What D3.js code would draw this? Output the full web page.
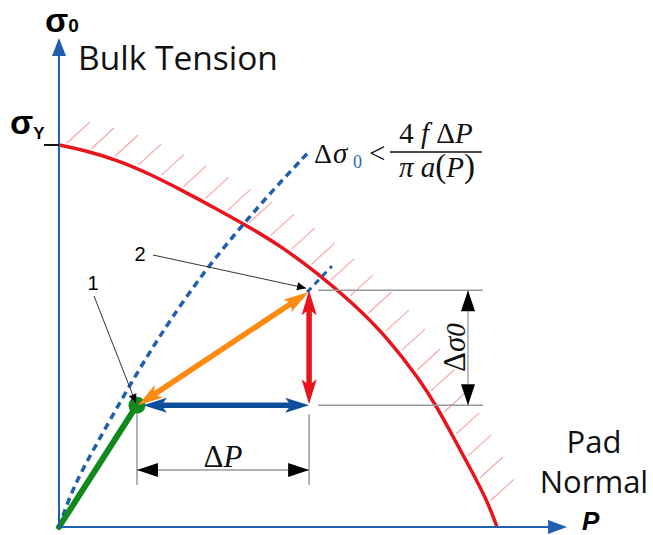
<!DOCTYPE html>
<html>
<head>
<meta charset="utf-8">
<script src="https://cdn.jsdelivr.net/npm/d3@7"></script>
<style>
html,body{margin:0;padding:0;background:#fff;}
svg{display:block;}
</style>
</head>
<body>
<svg id="chart" width="653" height="535"></svg>
<script>
// ---- data (P = pad normal, S = bulk tension, yield stress = 100) ----
const yieldP = [0, 5.5, 13.2, 20.8, 28.3, 36.1, 43.6, 51.1, 58.9, 67.1, 74.9, 82.4, 86.3, 90.0, 93.6, 97.7, 100];
const yieldS = [100, 98.7, 96.1, 92.4, 88.0, 83.2, 78.4, 73.2, 66.5, 58.6, 49.7, 38.5, 31.4, 23.6, 16.0, 7.1, 0];
const limitP = [0, 3.2, 8.7, 14.6, 20.0, 25.3, 32.9, 40.6, 48.2, 56.8];
const limitS = [0, 10.5, 22.0, 34.0, 44.5, 54.0, 66.5, 77.3, 87.4, 97.9];
const shiftP = [53.2, 62.3];
const shiftS = [57.3, 68.3];
const stateNames = ["1", "2"];
const stateP = [17.8, 57.1];
const stateS = [31.9, 62.0];
const axisMax = [116, 128];

const svg = d3.select("#chart");
const x = d3.scaleLinear().domain([0, 100]).range([59, 497]);
const y = d3.scaleLinear().domain([0, 100]).range([527, 145]);

const RED = "#e8141b", BLUE = "#1f5fad", DBLUE = "#0d4f9a", GREEN = "#12891f", ORANGE = "#ff8a12";

const yieldData = yieldP.map((p, i) => [p, yieldS[i]]);
const limitData = limitP.map((p, i) => [p, limitS[i]]);
const shiftData = shiftP.map((p, i) => [p, shiftS[i]]);
const smooth = d3.line().x(d => x(d[0])).y(d => y(d[1])).curve(d3.curveBasis);

// yield curve (path first for hatch sampling)
const yieldPath = svg.append("path")
  .attr("d", smooth(yieldData))
  .attr("fill", "none").attr("stroke", RED).attr("stroke-width", 3.5);
const node = yieldPath.node();
const len = node.getTotalLength();
const hatch = svg.insert("g", "path");
for (let s = 5; s < len - 20; s += 25) {
  const p = node.getPointAtLength(s);
  hatch.append("line")
    .attr("x1", p.x + 3).attr("y1", p.y - 3)
    .attr("x2", p.x + 26).attr("y2", p.y - 24)
    .attr("stroke", "#f6a3a3").attr("stroke-width", 1.1);
}

// dashed limit curves
svg.append("path").attr("d", smooth(limitData))
  .attr("fill", "none").attr("stroke", BLUE).attr("stroke-width", 3.5).attr("stroke-dasharray", "7,5");
svg.append("path").attr("d", d3.line().x(d => x(d[0])).y(d => y(d[1]))(shiftData))
  .attr("fill", "none").attr("stroke", BLUE).attr("stroke-width", 3).attr("stroke-dasharray", "6,5");

const p1 = [x(stateP[0]), y(stateS[0])];
const p2 = [x(stateP[1]), y(stateS[1])];

// green loading line
svg.append("line").attr("x1", x(0)).attr("y1", y(0)).attr("x2", p1[0]).attr("y2", p1[1])
  .attr("stroke", GREEN).attr("stroke-width", 6).attr("stroke-linecap", "round");

// axes
const ax = svg.append("g");
ax.append("line").attr("x1", x(0)).attr("y1", y(0)).attr("x2", x(0)).attr("y2", y(axisMax[1]) + 14)
  .attr("stroke", BLUE).attr("stroke-width", 2);
ax.append("path").attr("d", `M${x(0)},${y(axisMax[1])} L${x(0) - 7},${y(axisMax[1]) + 18} L${x(0) + 7},${y(axisMax[1]) + 18} Z`).attr("fill", BLUE);
ax.append("line").attr("x1", x(0)).attr("y1", y(0)).attr("x2", x(axisMax[0]) - 14).attr("y2", y(0))
  .attr("stroke", BLUE).attr("stroke-width", 2);
ax.append("path").attr("d", `M${x(axisMax[0])},${y(0)} L${x(axisMax[0]) - 19},${y(0) - 7} L${x(axisMax[0]) - 19},${y(0) + 7} Z`).attr("fill", BLUE);
// sigma_Y tick
ax.append("line").attr("x1", x(0) - 15).attr("x2", x(0)).attr("y1", y(100)).attr("y2", y(100))
  .attr("stroke", "#111").attr("stroke-width", 2);

// gray extension lines
const gray = "#9a9a9a";
const g2 = svg.append("g").attr("stroke", gray).attr("stroke-width", 1.5);
g2.append("line").attr("x1", p2[0] + 9).attr("x2", 483).attr("y1", p2[1]).attr("y2", p2[1]);
g2.append("line").attr("x1", p2[0] + 9).attr("x2", 483).attr("y1", p1[1]).attr("y2", p1[1]);
g2.append("line").attr("x1", p1[0]).attr("x2", p1[0]).attr("y1", p1[1] + 9).attr("y2", 485);
g2.append("line").attr("x1", p2[0]).attr("x2", p2[0]).attr("y1", p1[1] + 9).attr("y2", 485);

// dimension lines
const dimY = 470, dimX = 468;
g2.append("line").attr("x1", p1[0]).attr("x2", p2[0]).attr("y1", dimY).attr("y2", dimY).attr("stroke-width", 1.3);
g2.append("line").attr("x1", dimX).attr("x2", dimX).attr("y1", p2[1]).attr("y2", p1[1]).attr("stroke-width", 1.3);
function head(tip, dir, L, h, color) {
  const [ux, uy] = dir, nx = -uy, ny = ux;
  const bx = tip[0] + ux * L, by = tip[1] + uy * L;
  svg.append("path").attr("d", `M${tip[0]},${tip[1]} L${bx + nx * h},${by + ny * h} L${bx - nx * h},${by - ny * h} Z`).attr("fill", color);
}
head([p1[0], dimY], [1, 0], 21, 7, "#000");
head([p2[0], dimY], [-1, 0], 21, 7, "#000");
head([dimX, p2[1]], [0, 1], 21, 7, "#000");
head([dimX, p1[1]], [0, -1], 21, 7, "#000");

// double arrows
function dbl(a, b, color, w, L, h) {
  const dx = b[0] - a[0], dy = b[1] - a[1], d = Math.hypot(dx, dy);
  const ux = dx / d, uy = dy / d, nx = -uy, ny = ux;
  const P = (pt, u, n) => [pt[0] + ux * u + nx * n, pt[1] + uy * u + ny * n];
  const pts = [a, P(a, L, h), P(a, L * 0.85, w / 2), P(b, -L * 0.85, w / 2), P(b, -L, h), b,
    P(b, -L, -h), P(b, -L * 0.85, -w / 2), P(a, L * 0.85, -w / 2), P(a, L, -h)];
  svg.append("path").attr("d", d3.line()(pts) + "Z").attr("fill", color);
}
// green state dot
svg.append("circle").attr("cx", p1[0]).attr("cy", p1[1]).attr("r", 8.5).attr("fill", GREEN);
dbl([p1[0] + 6, p1[1]], [p2[0], p1[1]], DBLUE, 5.5, 24, 7.5);
dbl([p1[0] + 1, p1[1]], [p2[0] - 1, p2[1] + 2], ORANGE, 5.5, 25, 7.5);
dbl([p2[0], p2[1]], [p2[0], p1[1] - 1], RED, 5.5, 25, 7.5);

// leaders for state labels
function leader(from, to) {
  svg.append("line").attr("x1", from[0]).attr("y1", from[1]).attr("x2", to[0]).attr("y2", to[1])
    .attr("stroke", "#333").attr("stroke-width", 1);
  const dx = to[0] - from[0], dy = to[1] - from[1], d = Math.hypot(dx, dy);
  head(to, [-dx / d, -dy / d], 9, 4, "#000");
}
leader([94, 296], [p1[0] - 1, p1[1] - 2]);
leader([153, 255], [p2[0] - 3, p2[1] - 2]);
svg.append("text").attr("x", 93).attr("y", 290).attr("text-anchor", "middle")
  .attr("font-family", "Liberation Sans, Arial, sans-serif").attr("font-size", 20).text(stateNames[0]);
svg.append("text").attr("x", 140).attr("y", 261).attr("text-anchor", "middle")
  .attr("font-family", "Liberation Sans, Arial, sans-serif").attr("font-size", 20).text(stateNames[1]);

// axis titles
const sans = "Open Sans, Liberation Sans, sans-serif";
const t0 = svg.append("text").attr("x", 45).attr("y", 32).attr("font-family", "Liberation Sans, Arial, sans-serif")
  .attr("font-weight", "bold").attr("font-size", 34);
t0.append("tspan").text("σ");
t0.append("tspan").attr("font-size", 19).text("0");
svg.append("text").attr("x", 78).attr("y", 70).attr("font-family", sans).attr("font-size", 33.5)
  .attr("fill", "#111").text("Bulk Tension");
const ty = svg.append("text").attr("x", 10).attr("y", 134).attr("font-family", "Liberation Sans, Arial, sans-serif")
  .attr("font-weight", "bold").attr("font-size", 34);
ty.append("tspan").text("σ");
ty.append("tspan").attr("font-size", 17).attr("dy", 5).text("Y");
svg.append("text").attr("x", 594).attr("y", 453).attr("text-anchor", "middle").attr("font-family", sans)
  .attr("font-size", 31).attr("fill", "#111").text("Pad");
svg.append("text").attr("x", 594).attr("y", 493).attr("text-anchor", "middle").attr("font-family", sans)
  .attr("font-size", 31).attr("fill", "#111").text("Normal");
svg.append("text").attr("x", 582).attr("y", 530).attr("font-family", "Liberation Sans, Arial, sans-serif")
  .attr("font-weight", "bold").attr("font-style", "italic").attr("font-size", 26).text("P");

// formula
const serif = "Liberation Serif, DejaVu Serif, serif";
const f = svg.append("g").attr("font-family", serif).attr("fill", "#111");
f.append("text").attr("x", 314).attr("y", 163).attr("font-size", 28).text("Δ");
f.append("text").attr("x", 333).attr("y", 163).attr("font-size", 29).attr("font-style", "italic").text("σ");
f.append("text").attr("x", 353).attr("y", 168).attr("font-size", 18).attr("fill", "#2a6ab5").text("0");
f.append("text").attr("x", 369).attr("y", 163).attr("font-size", 29).text("<");
f.append("line").attr("x1", 390).attr("x2", 482).attr("y1", 152).attr("y2", 152).attr("stroke", "#111").attr("stroke-width", 1.5);
const num = f.append("text").attr("x", 436).attr("y", 143).attr("text-anchor", "middle").attr("font-size", 29);
num.append("tspan").text("4 ");
num.append("tspan").attr("font-style", "italic").text("f");
num.append("tspan").text(" Δ");
num.append("tspan").attr("font-style", "italic").text("P");
const den = f.append("text").attr("x", 437).attr("y", 177).attr("text-anchor", "middle").attr("font-size", 29);
den.append("tspan").attr("font-style", "italic").text("π a");
den.append("tspan").attr("font-size", 33).text("(");
den.append("tspan").attr("font-style", "italic").text("P");
den.append("tspan").attr("font-size", 33).text(")");

// dimension labels
const dp = svg.append("text").attr("x", (p1[0] + p2[0]) / 2).attr("y", 467).attr("text-anchor", "middle")
  .attr("font-family", serif).attr("font-size", 31).attr("fill", "#111");
dp.append("tspan").text("Δ");
dp.append("tspan").attr("font-style", "italic").text("P");
const ds = svg.append("text").attr("transform", `translate(465,${(p1[1] + p2[1]) / 2}) rotate(-90)`)
  .attr("text-anchor", "middle").attr("font-family", serif).attr("font-size", 31).attr("fill", "#111");
ds.append("tspan").text("Δ");
ds.append("tspan").attr("font-style", "italic").text("σ");
ds.append("tspan").attr("font-style", "italic").attr("font-size", 27).text("0");
</script>
</body>
</html>
